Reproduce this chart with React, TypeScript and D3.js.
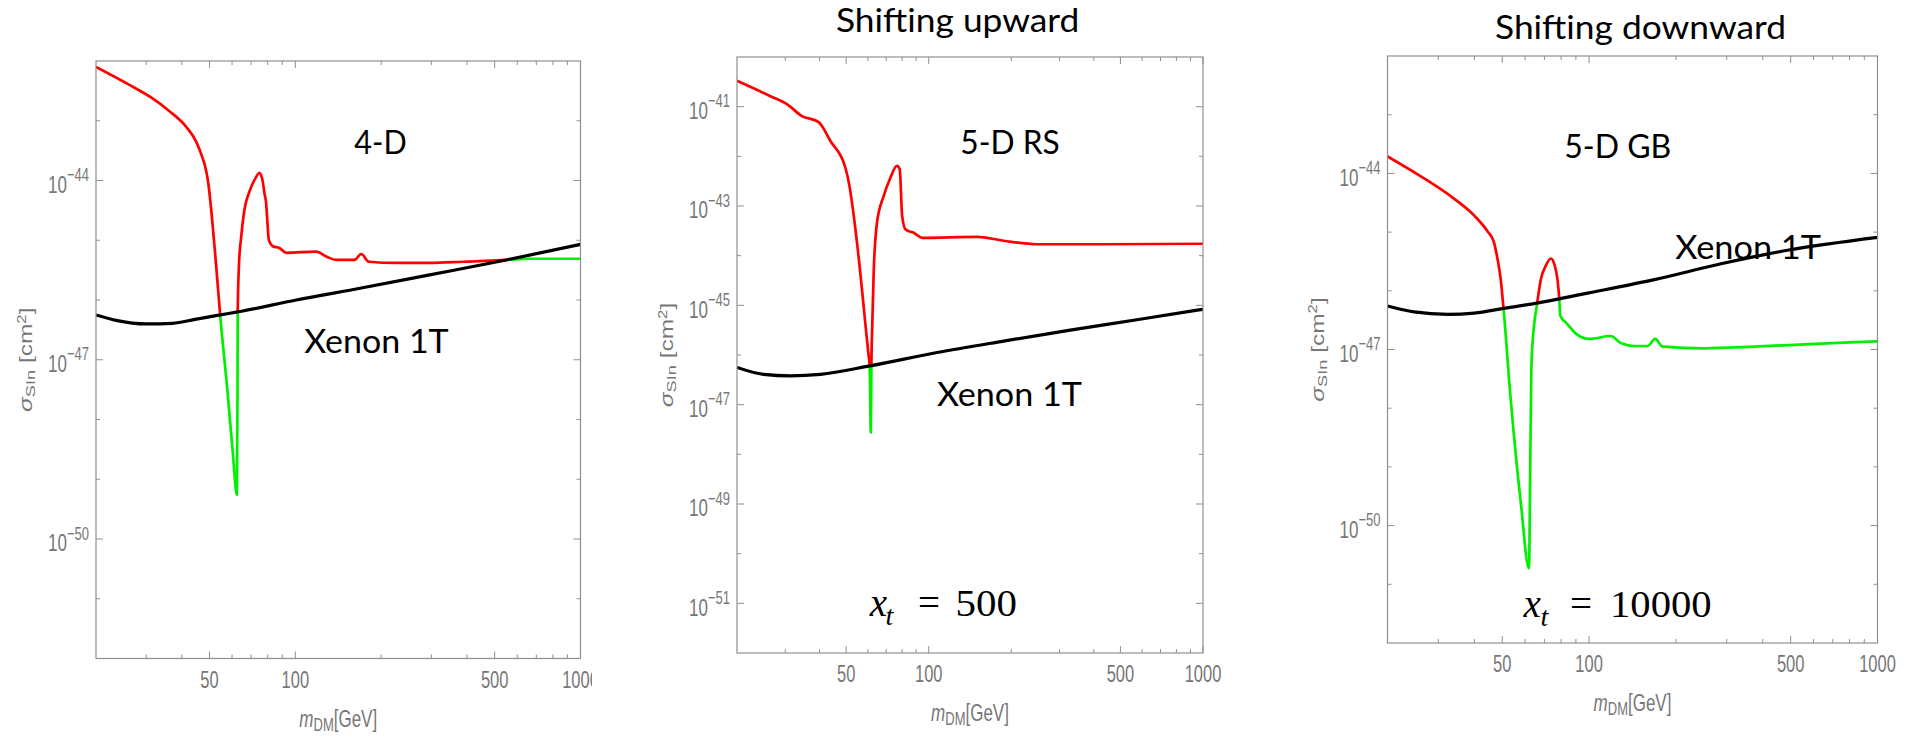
import React from 'react';
import * as d3 from 'd3';

type Pt = [number, number]; // [m_DM (GeV), log10 sigma_SIn (cm^2)]

// ---------- axis ticks ----------
const massMajorTicks = [50, 100, 500, 1000];
const massMinorTicks = [30, 40, 60, 70, 80, 90, 200, 300, 400, 600, 700, 800, 900];
const massTickLabels = ['50', '100', '500', '1000'];

const yLabelExps4D = [-44, -47, -50];
const yLabelExpsRS = [-41, -43, -45, -47, -49, -51];
const yLabelExpsGB = [-44, -47, -50];

// ---------- texts ----------
const panelTitles = ['', 'Shifting upward', 'Shifting downward'];
const modelLabels = ['4-D', '5-D RS', '5-D GB'];
const xenonLabel = 'Xenon 1T';
const xtValues = ['', '500', '10000'];

// ---------- data: panel 1 (4-D) ----------
const xenon4D: Pt[] = [
  [20, -46.25], [23.5, -46.34], [30, -46.4], [37.1, -46.39], [44.9, -46.32], [54.5, -46.25],
  [62.8, -46.2], [100.8, -46.0], [170.3, -45.8], [295.8, -45.58], [549.5, -45.33], [1000, -45.07],
];
const signal4D: Pt[] = [
  [20, -42.1], [26.2, -42.4], [31.2, -42.61], [36.2, -42.84], [41.4, -43.1], [44.9, -43.35],
  [47.1, -43.6], [48.6, -43.82], [49.7, -44.1], [50.7, -44.49], [52.8, -45.44],
  [54.5, -46.25], [57.9, -47.56], [60.4, -48.57], [62.4, -49.26], [62.7, -47.56], [62.8, -46.22],
  [63.4, -45.44], [64.6, -44.94], [66.3, -44.49], [69.1, -44.18], [72.5, -43.96], [74.9, -43.87],
  [76.9, -44.02], [77.9, -44.21], [79.0, -44.38], [80.0, -44.77], [80.7, -44.99], [83.4, -45.1],
  [88.0, -45.13], [92.8, -45.21], [118.4, -45.19], [128.3, -45.27], [139.0, -45.33], [161.2, -45.33],
  [170.3, -45.23], [181.2, -45.36], [226, -45.38], [295.8, -45.38], [387.4, -45.36], [549.5, -45.33],
  [663.5, -45.31], [1000, -45.31],
];

// ---------- data: panel 2 (5-D RS, x_t = 500) ----------
const xenonRS: Pt[] = [
  [20, -46.25], [25, -46.39], [31.3, -46.42], [40.3, -46.39], [60.9, -46.22], [107.2, -45.95],
  [187.6, -45.72], [328, -45.5], [574, -45.29], [1000, -45.08],
];
const signalRS: Pt[] = [
  [20, -40.48], [26.5, -40.79], [30.4, -40.95], [34.5, -41.19], [39.7, -41.31], [43.8, -41.69],
  [49.7, -42.23], [51.5, -42.62], [53.3, -43.2], [56.3, -44.34], [58.7, -45.35], [60.2, -45.95],
  [60.9, -46.22], [61.5, -47.56], [61.8, -46.22], [62.3, -45.35], [63.0, -44.34], [64.8, -43.33],
  [68.5, -42.8], [72.5, -42.43], [76.6, -42.19], [78.4, -42.26], [80.0, -43.2], [82.3, -43.47],
  [88.2, -43.54], [94.6, -43.64], [150, -43.62], [187.6, -43.7], [248, -43.77], [434.5, -43.77],
  [1000, -43.76],
];

// ---------- data: panel 3 (5-D GB, x_t = 10000) ----------
const xenonGB: Pt[] = [
  [20, -46.26], [24.7, -46.36], [32.3, -46.4], [40.0, -46.38], [50.5, -46.3], [65.9, -46.21],
  [98.8, -46.04], [168.3, -45.81], [286.6, -45.54], [487.8, -45.31], [1000, -45.09],
];
const signalGB: Pt[] = [
  [20, -43.71], [26.1, -44.05], [34.0, -44.43], [40.0, -44.72], [44.5, -44.99], [46.7, -45.16],
  [48.1, -45.45], [49.4, -45.81], [50.5, -46.3], [53.5, -47.86], [58.0, -49.62], [61.9, -50.73],
  [62.5, -49.03], [63.1, -47.27], [64.5, -46.57], [65.9, -46.25], [68.0, -45.81], [70.8, -45.57],
  [73.7, -45.45], [75.7, -45.54], [77.7, -45.81], [78.8, -46.13], [79.4, -46.42], [84.2, -46.57],
  [90.0, -46.73], [100, -46.82], [118.9, -46.77], [128.8, -46.89], [143.2, -46.94], [159.5, -46.94],
  [169.5, -46.82], [179.8, -46.95], [250.8, -46.98], [373.6, -46.95], [636.6, -46.9], [1000, -46.86],
];

// ---------- layout ----------
interface Layout {
  left: number; right: number; top: number; bottom: number; yMin: number; yMax: number;
  title?: { x: number; y: number; w: number };
  model: { x: number; y: number; w: number };
  xenon: { x: number; y: number; w: number };
  xt?: { x: number; y: number; t: number; eq: number; num: number; numW: number };
}
const layouts: Layout[] = [
  {
    left: 96, right: 580.5, top: 61, bottom: 658.5, yMin: -52, yMax: -42,
    model: { x: 354.3, y: 154.3, w: 52.4 },
    xenon: { x: 304.3, y: 353.3, w: 144.4 },
  },
  {
    left: 737, right: 1203, top: 57, bottom: 653, yMin: -52, yMax: -40,
    title: { x: 836, y: 32.3, w: 243.3 },
    model: { x: 960.3, y: 154.3, w: 99.4 },
    xenon: { x: 937, y: 406, w: 145 },
    xt: { x: 869.8, y: 615.6, t: 885.5, eq: 918, num: 955.6, numW: 61.4 },
  },
  {
    left: 1387.5, right: 1877.5, top: 56, bottom: 643, yMin: -52, yMax: -42,
    title: { x: 1495, y: 39.3, w: 291 },
    model: { x: 1564.3, y: 158.3, w: 107 },
    xenon: { x: 1675.3, y: 258.5, w: 145.7 },
    xt: { x: 1523.6, y: 617, t: 1540.5, eq: 1570, num: 1610, numW: 101.6 },
  },
];

const GRAY = '#777777';
const FRAME = '#8f8f8f';
const SANS = "'Liberation Sans', Arial, sans-serif";
const SLIDE = "Lato, 'Open Sans', sans-serif";
const SERIF = "'Liberation Serif', 'DejaVu Serif', serif";
const STRETCH = 1.4;

function Panel({ idx, cfg, xenon, signal, yLabels }: { idx: number; cfg: Layout; xenon: Pt[]; signal: Pt[]; yLabels: number[] }) {
  const x = d3.scaleLog().domain([20, 1000]).range([cfg.left, cfg.right]);
  const y = d3.scaleLog().domain([Math.pow(10, cfg.yMin), Math.pow(10, cfg.yMax)]).range([cfg.bottom, cfg.top]);
  const px = (p: Pt) => x(p[0]);
  const py = (p: Pt) => y(Math.pow(10, p[1]));
  const sigLine = d3.line<Pt>().x(px).y(py).curve(d3.curveMonotoneX);
  const xenLine = d3.line<Pt>().x(px).y(py).curve(d3.curveMonotoneX);
  const above = d3.area<Pt>().x(px).y0(cfg.top - 30).y1(py).curve(d3.curveMonotoneX);
  const below = d3.area<Pt>().x(px).y0(cfg.bottom + 30).y1(py).curve(d3.curveMonotoneX);
  const decades = d3.range(cfg.yMin + 1, cfg.yMax);
  const idA = `above${idx}`, idB = `below${idx}`, idF = `frame${idx}`;
  const majLen = 7, minLen = 4;
  const cx = (cfg.left + cfg.right) / 2;
  const cy = (cfg.top + cfg.bottom) / 2;
  return (
    <g>
      <defs>
        <clipPath id={idF}><rect x={cfg.left} y={cfg.top} width={cfg.right - cfg.left} height={cfg.bottom - cfg.top} /></clipPath>
        <clipPath id={idA}><path d={above(xenon) || ''} /></clipPath>
        <clipPath id={idB}><path d={below(xenon) || ''} /></clipPath>
      </defs>
      <g clipPath={`url(#${idF})`}>
        <g clipPath={`url(#${idA})`}>
          <path d={sigLine(signal) || ''} fill="none" stroke="#ff0000" strokeWidth={2.7} strokeLinejoin="round" />
        </g>
        <g clipPath={`url(#${idB})`}>
          <path d={sigLine(signal) || ''} fill="none" stroke="#00f000" strokeWidth={2.7} strokeLinejoin="round" />
        </g>
        <path d={xenLine(xenon) || ''} fill="none" stroke="#000" strokeWidth={3.2} />
      </g>
      <rect x={cfg.left} y={cfg.top} width={cfg.right - cfg.left} height={cfg.bottom - cfg.top} fill="none" stroke={FRAME} strokeWidth={1.2} />
      {/* x ticks bottom & top */}
      {massMajorTicks.concat(massMinorTicks).map((m) => {
        const len = massMajorTicks.includes(m) ? majLen : minLen;
        const xx = x(m);
        return (
          <g key={`xt${m}`} stroke={FRAME} strokeWidth={1}>
            <line x1={xx} x2={xx} y1={cfg.bottom} y2={cfg.bottom - len} />
            <line x1={xx} x2={xx} y1={cfg.top} y2={cfg.top + len} />
          </g>
        );
      })}
      {/* y ticks left & right */}
      {decades.map((e) => {
        const len = yLabels.includes(e) ? majLen : minLen;
        const yy = y(Math.pow(10, e));
        return (
          <g key={`yt${e}`} stroke={FRAME} strokeWidth={1}>
            <line x1={cfg.left} x2={cfg.left + len} y1={yy} y2={yy} />
            <line x1={cfg.right} x2={cfg.right - len} y1={yy} y2={yy} />
          </g>
        );
      })}
      {/* x tick labels */}
      {massMajorTicks.map((m, i) => (
        <text key={`xl${m}`} transform={`translate(${x(m)},${cfg.bottom + 29}) scale(1,${STRETCH})`}
          textAnchor="middle" fontFamily={SANS} fontSize={16.5} fill={GRAY}>{massTickLabels[i]}</text>
      ))}
      {/* y tick labels */}
      {yLabels.map((e) => (
        <text key={`yl${e}`} transform={`translate(${cfg.left - 7},${y(Math.pow(10, e))}) scale(1,${STRETCH})`}
          textAnchor="end" fontFamily={SANS} fontSize={17} fill={GRAY}>
          <tspan y={8.8}>10</tspan>
          <tspan dy={-8.3} fontSize={13}>{'\u2212' + Math.abs(e)}</tspan>
        </text>
      ))}
      {/* axis titles */}
      <text transform={`translate(${cx},${cfg.bottom + 68}) scale(1,${STRETCH})`} textAnchor="middle"
        fontFamily={SANS} fontSize={17} fill={GRAY}>
        <tspan fontStyle="italic">m</tspan>
        <tspan dy={3} fontSize={13}>DM</tspan>
        <tspan dy={-3}>[GeV]</tspan>
      </text>
      <text transform={`translate(${cfg.left - 64},${cy}) rotate(-90) scale(${STRETCH},1)`} textAnchor="middle"
        fontFamily={SANS} fontSize={17.5} fill={GRAY}>
        <tspan fontStyle="italic">σ</tspan>
        <tspan dy={3} fontSize={13}>SIn</tspan>
        <tspan dy={-3}> [cm</tspan>
        <tspan dy={-6.5} fontSize={12}>2</tspan>
        <tspan dy={6.5}>]</tspan>
      </text>
      {/* slide annotations */}
      {cfg.title && (
        <text x={cfg.title.x} y={cfg.title.y} textLength={cfg.title.w} lengthAdjust="spacingAndGlyphs"
          fontFamily={SLIDE} fontSize={32} fill="#000">{panelTitles[idx]}</text>
      )}
      <text x={cfg.model.x} y={cfg.model.y} textLength={cfg.model.w} lengthAdjust="spacingAndGlyphs"
        fontFamily={SLIDE} fontSize={32} fill="#000">{modelLabels[idx]}</text>
      <text x={cfg.xenon.x} y={cfg.xenon.y} textLength={cfg.xenon.w} lengthAdjust="spacingAndGlyphs"
        fontFamily={SLIDE} fontSize={33} fill="#000">{xenonLabel}</text>
      {cfg.xt && (
        <g fontFamily={SERIF} fill="#000">
          <text x={cfg.xt.x} y={cfg.xt.y} fontSize={39} fontStyle="italic">x</text>
          <text x={cfg.xt.t} y={cfg.xt.y + 9} fontSize={28} fontStyle="italic">t</text>
          <text x={cfg.xt.eq} y={cfg.xt.y} fontSize={39}>=</text>
          <text x={cfg.xt.num} y={cfg.xt.y} fontSize={37} textLength={cfg.xt.numW} lengthAdjust="spacingAndGlyphs">{xtValues[idx]}</text>
        </g>
      )}
    </g>
  );
}

export default function App() {
  return (
    <svg width={1915} height={739} style={{ position: 'absolute', left: 0, top: 0, background: '#fff' }}>
      <rect x={0} y={0} width={1915} height={739} fill="#fff" />
      <Panel idx={0} cfg={layouts[0]} xenon={xenon4D} signal={signal4D} yLabels={yLabelExps4D} />
      {/* white background of the middle picture hides the end of the "1000" label of the first one */}
      <rect x={592} y={660} width={40} height={50} fill="#fff" />
      <Panel idx={1} cfg={layouts[1]} xenon={xenonRS} signal={signalRS} yLabels={yLabelExpsRS} />
      <Panel idx={2} cfg={layouts[2]} xenon={xenonGB} signal={signalGB} yLabels={yLabelExpsGB} />
    </svg>
  );
}
